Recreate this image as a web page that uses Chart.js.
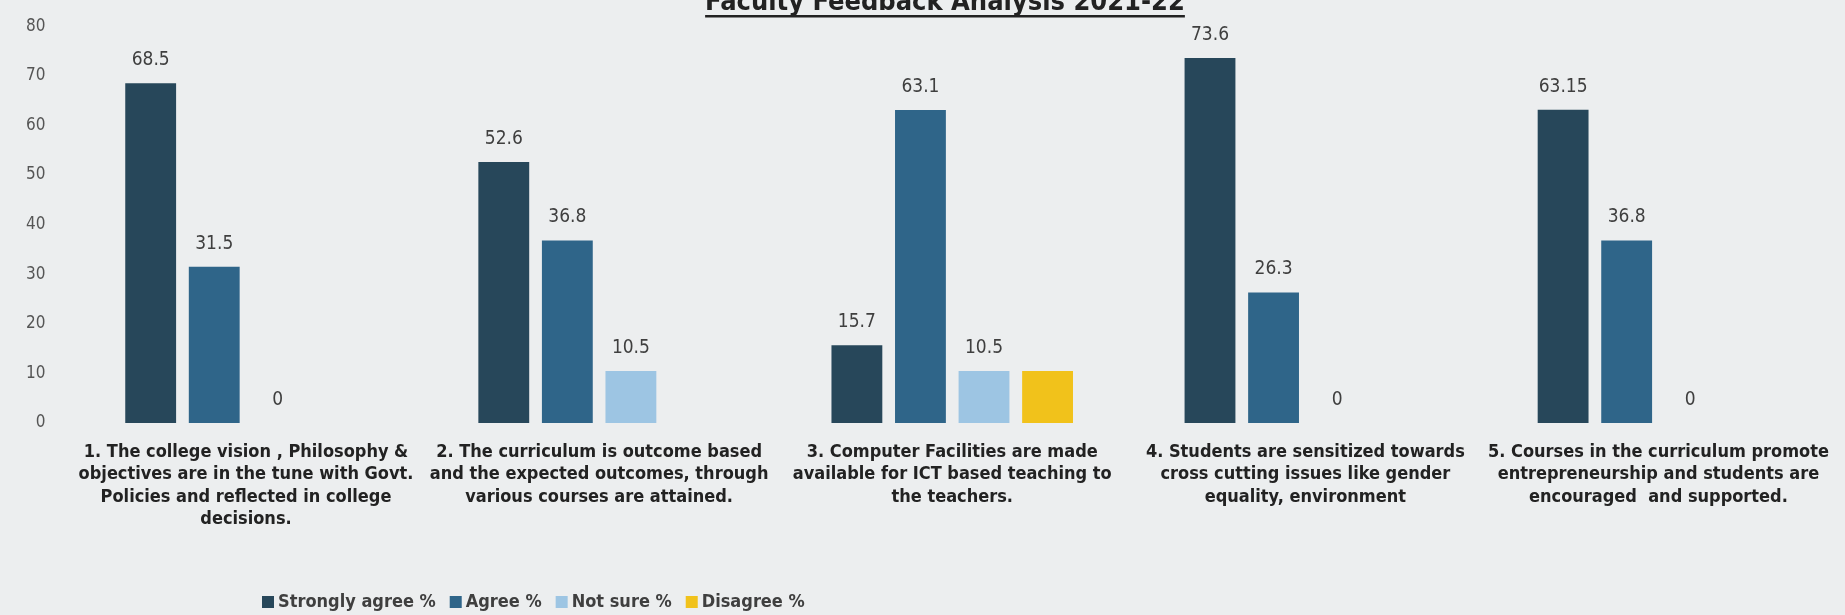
<!DOCTYPE html>
<html>
<head>
<meta charset="utf-8">
<script src="https://cdn.jsdelivr.net/npm/chart.js@4.4.1/dist/chart.umd.min.js"></script>
<style>
  html, body { margin: 0; padding: 0; background: #eceeef; }
  #wrap { position: relative; width: 1845px; height: 615px; }
</style>
</head>
<body>
<div id="wrap"><canvas id="feedbackChart" width="1845" height="615"></canvas></div>
<script>
const chartTitle = 'Faculty Feedback Analysis 2021-22';

const categories = [
  ['1. The college vision , Philosophy &', 'objectives are in the tune with Govt.', 'Policies and reflected in college', 'decisions.'],
  ['2. The curriculum is outcome based', 'and the expected outcomes, through', 'various courses are attained.'],
  ['3. Computer Facilities are made', 'available for ICT based teaching to', 'the teachers.'],
  ['4. Students are sensitized towards', 'cross cutting issues like gender', 'equality, environment'],
  ['5. Courses in the curriculum promote', 'entrepreneurship and students are', 'encouraged  and supported.']
];

const stronglyAgree = [68.5, 52.6, 15.7, 73.6, 63.15];
const agree = [31.5, 36.8, 63.1, 26.3, 36.8];
const notSure = [0, 10.5, 10.5, 0, 0];
const disagree = [0, 0, 10.5, 0, 0];

const seriesNames = ['Strongly agree %', 'Agree %', 'Not sure %', 'Disagree %'];
const seriesColors = ['#27475a', '#2f6589', '#9dc5e3', '#f1c21b'];
const yTicks = [0, 10, 20, 30, 40, 50, 60, 70, 80];

const fontFamily = '"Liberation Sans Narrow", "DejaVu Sans Condensed", "Open Sans", sans-serif';
const textColor = '#3f3f3f';

// value labels above the first three series (the disagree bar has none)
const valueLabels = {
  id: 'valueLabels',
  afterDatasetsDraw(chart) {
    const ctx = chart.ctx;
    ctx.save();
    ctx.font = '19px ' + fontFamily;
    ctx.fillStyle = textColor;
    ctx.textAlign = 'center';
    ctx.textBaseline = 'middle';
    [0, 1, 2].forEach((di) => {
      const meta = chart.getDatasetMeta(di);
      meta.data.forEach((bar, i) => {
        const v = chart.data.datasets[di].data[i];
        if (v === 0 && di !== 2) return;
        ctx.fillText(String(v), bar.x, bar.y - 23);
      });
    });
    ctx.restore();
  }
};

// underlined title, partly cut off at the top edge like the photo
const topTitle = {
  id: 'topTitle',
  afterDraw(chart) {
    const ctx = chart.ctx;
    ctx.save();
    ctx.font = 'bold 27px ' + fontFamily;
    ctx.fillStyle = '#222';
    ctx.textAlign = 'center';
    ctx.textBaseline = 'alphabetic';
    const x = 945;
    ctx.fillText(chartTitle, x, 10);
    const w = ctx.measureText(chartTitle).width;
    ctx.fillRect(x - w / 2, 15, w, 2.5);
    ctx.restore();
  }
};

// legend drawn left of centre, as in the reference
const bottomLegend = {
  id: 'bottomLegend',
  afterDraw(chart) {
    const ctx = chart.ctx;
    ctx.save();
    ctx.font = 'bold 18px ' + fontFamily;
    ctx.textBaseline = 'middle';
    let x = 262;
    const y = 602;
    chart.data.datasets.forEach((ds) => {
      ctx.fillStyle = ds.backgroundColor;
      ctx.fillRect(x, y - 6, 12, 12);
      x += 16;
      ctx.fillStyle = textColor;
      ctx.fillText(ds.label, x, y);
      x += ctx.measureText(ds.label).width + 14;
    });
    ctx.restore();
  }
};

document.addEventListener('DOMContentLoaded', function() {
  const ctx = document.getElementById('feedbackChart');
  const seriesData = [stronglyAgree, agree, notSure, disagree];

  new Chart(ctx, {
    type: 'bar',
    data: {
      labels: categories,
      datasets: seriesData.map((data, i) => ({
        label: seriesNames[i],
        data: data,
        backgroundColor: seriesColors[i],
        borderWidth: 0,
        categoryPercentage: 0.72,
        barPercentage: 0.8
      }))
    },
    options: {
      responsive: false,
      animation: false,
      layout: {
        padding: { top: 21, right: 10, bottom: 74, left: 10 }
      },
      plugins: {
        legend: { display: false },
        title: { display: false },
        tooltip: { enabled: false }
      },
      scales: {
        y: {
          min: 0,
          max: 80,
          afterBuildTicks: function(axis) {
            axis.ticks = yTicks.map((v) => ({ value: v }));
          },
          grid: { display: false },
          border: { display: false },
          ticks: {
            padding: 16,
            color: '#555',
            font: { family: fontFamily, size: 17 }
          }
        },
        x: {
          grid: { display: false },
          border: { display: false },
          ticks: {
            padding: 10,
            maxRotation: 0,
            autoSkip: false,
            color: '#222',
            font: { family: fontFamily, size: 18, weight: 'bold', lineHeight: 1.25 }
          }
        }
      }
    },
    plugins: [valueLabels, topTitle, bottomLegend]
  });
});
</script>
</body>
</html>
